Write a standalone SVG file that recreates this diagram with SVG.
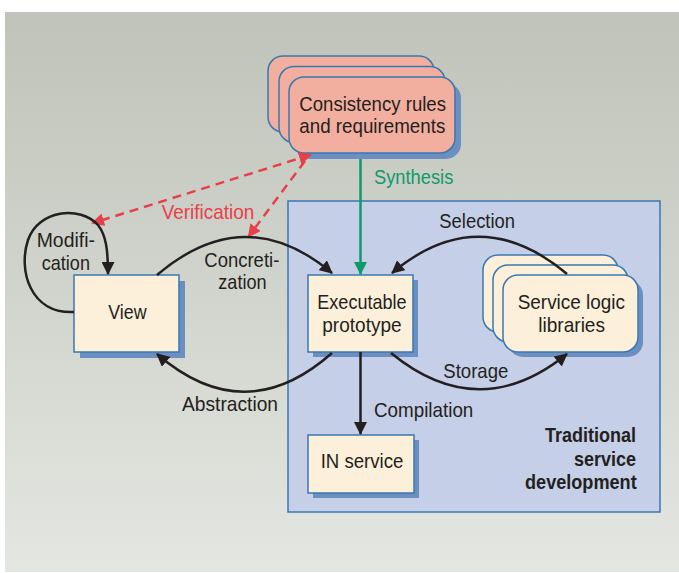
<svg xmlns="http://www.w3.org/2000/svg" width="679" height="573" viewBox="0 0 679 573">
<style>
text{font-family:"Liberation Sans",Arial,sans-serif;font-size:21px;fill:#231f20;}
.b{font-weight:bold;}
.box{fill:#fdf0da;stroke:#3a78b0;stroke-width:1.5;}
.pink{fill:#f2ae9e;stroke:#3a78b0;stroke-width:1.5;}
.sh{fill:#6a8fc0;}
.conn{fill:none;stroke:#231f20;stroke-width:2.5;}
.red{fill:none;stroke:#e8404a;stroke-width:2.5;stroke-dasharray:9 6;}
.green{fill:none;stroke:#0f9a6b;stroke-width:2.5;}
</style>
<defs>
<linearGradient id="bg" x1="0" y1="0" x2="0" y2="1">
<stop offset="0" stop-color="#bfc3b9"/>
<stop offset="1" stop-color="#e4e6e1"/>
</linearGradient>
<marker id="ah" markerUnits="userSpaceOnUse" markerWidth="13" markerHeight="13" refX="12" refY="6.5" orient="auto-start-reverse" viewBox="0 0 13 13"><path d="M0,0 L13,6.5 L0,13 z" fill="#231f20"/></marker>
<marker id="ar" markerUnits="userSpaceOnUse" markerWidth="13" markerHeight="13" refX="11" refY="6.5" orient="auto-start-reverse" viewBox="0 0 13 13"><path d="M0,0 L13,6.5 L0,13 z" fill="#e8404a"/></marker>
<marker id="ag" markerUnits="userSpaceOnUse" markerWidth="13" markerHeight="13" refX="12" refY="6.5" orient="auto-start-reverse" viewBox="0 0 13 13"><path d="M0,0 L13,6.5 L0,13 z" fill="#0f9a6b"/></marker>
</defs>
<rect x="0" y="0" width="679" height="573" fill="#ffffff"/>
<rect x="5" y="12" width="674" height="560" fill="url(#bg)"/>

<g id="traditional">
<rect x="288" y="201" width="372" height="311" fill="#c5cfe8" stroke="#3a78b0" stroke-width="1.5"/>
<text class="b" x="545" y="441.7" textLength="91" lengthAdjust="spacingAndGlyphs">Traditional</text>
<text class="b" x="574" y="466" textLength="62" lengthAdjust="spacingAndGlyphs">service</text>
<text class="b" x="525" y="489.3" textLength="111.7" lengthAdjust="spacingAndGlyphs">development</text>
</g>

<g id="consistency">
<rect class="pink" x="268" y="56" width="166" height="76" rx="15"/>
<rect class="pink" x="279" y="66.5" width="166" height="76" rx="15"/>
<rect class="sh" x="295" y="83" width="166" height="76" rx="15"/>
<rect class="pink" x="289" y="77" width="166" height="76" rx="15"/>
<text x="299.3" y="110.7" textLength="146.7" lengthAdjust="spacingAndGlyphs">Consistency rules</text>
<text x="299.3" y="133.3" textLength="146" lengthAdjust="spacingAndGlyphs">and requirements</text>
</g>

<g id="view">
<rect class="sh" x="80" y="281" width="105" height="77"/>
<rect class="box" x="74" y="275" width="105" height="77"/>
<text x="108.3" y="319.3" textLength="38.3" lengthAdjust="spacingAndGlyphs">View</text>
</g>

<g id="executable">
<rect class="sh" x="313" y="280" width="105" height="77"/>
<rect class="box" x="308" y="275" width="105" height="77"/>
<text x="317.3" y="309" textLength="89.3" lengthAdjust="spacingAndGlyphs">Executable</text>
<text x="322.3" y="331.7" textLength="79.3" lengthAdjust="spacingAndGlyphs">prototype</text>
</g>

<g id="in-service">
<rect class="sh" x="313" y="440" width="106" height="58"/>
<rect class="box" x="308" y="435" width="106" height="58"/>
<text x="320.7" y="468.3" textLength="82.7" lengthAdjust="spacingAndGlyphs">IN service</text>
</g>

<g id="service-logic">
<rect class="box" x="483" y="255" width="135" height="77" rx="15"/>
<rect class="box" x="493" y="265" width="135" height="77" rx="15"/>
<rect class="sh" x="508" y="280" width="135" height="77" rx="15"/>
<rect class="box" x="503" y="275" width="135" height="77" rx="15"/>
<text x="517.7" y="309" textLength="107.3" lengthAdjust="spacingAndGlyphs">Service logic</text>
<text x="538.3" y="331.7" textLength="66.7" lengthAdjust="spacingAndGlyphs">libraries</text>
</g>

<g id="connectors">
<path class="green" d="M360.5,159 L360.5,274" marker-end="url(#ag)"/>
<text x="374" y="184.3" textLength="79.3" lengthAdjust="spacingAndGlyphs" style="fill:#0f9a6b">Synthesis</text>

<path class="red" d="M310,155 L93,223" marker-start="url(#ar)" marker-end="url(#ar)"/>
<path class="red" d="M305,161 L249,236" marker-end="url(#ar)"/>
<text x="161.7" y="219.3" textLength="92.6" lengthAdjust="spacingAndGlyphs" style="fill:#e8404a">Verification</text>

<path class="conn" d="M74,312 C30,314 18,270 28,240 C38,210 80,205 98,225 C106,235 108,250 108,274" marker-end="url(#ah)"/>
<text x="36.7" y="246.7" textLength="58.3" lengthAdjust="spacingAndGlyphs">Modifi-</text>
<text x="41.7" y="270" textLength="48.3" lengthAdjust="spacingAndGlyphs">cation</text>

<path class="conn" d="M157,275 Q245,200 332,273" marker-end="url(#ah)"/>
<text x="204.3" y="267.3" textLength="75" lengthAdjust="spacingAndGlyphs">Concreti-</text>
<text x="218.3" y="289" textLength="48.3" lengthAdjust="spacingAndGlyphs">zation</text>

<path class="conn" d="M332,353 Q245,430 157,354" marker-end="url(#ah)"/>
<text x="182" y="411" textLength="96" lengthAdjust="spacingAndGlyphs">Abstraction</text>

<path class="conn" d="M567,274 Q479,200 392,273" marker-end="url(#ah)"/>
<text x="439.3" y="227.7" textLength="75.7" lengthAdjust="spacingAndGlyphs">Selection</text>

<path class="conn" d="M391,353 Q479,425 567,354" marker-end="url(#ah)"/>
<text x="443.3" y="378.3" textLength="65" lengthAdjust="spacingAndGlyphs">Storage</text>

<path class="conn" d="M360.5,352 L360.5,434" marker-end="url(#ah)"/>
<text x="374" y="416.7" textLength="99.3" lengthAdjust="spacingAndGlyphs">Compilation</text>
</g>
</svg>
